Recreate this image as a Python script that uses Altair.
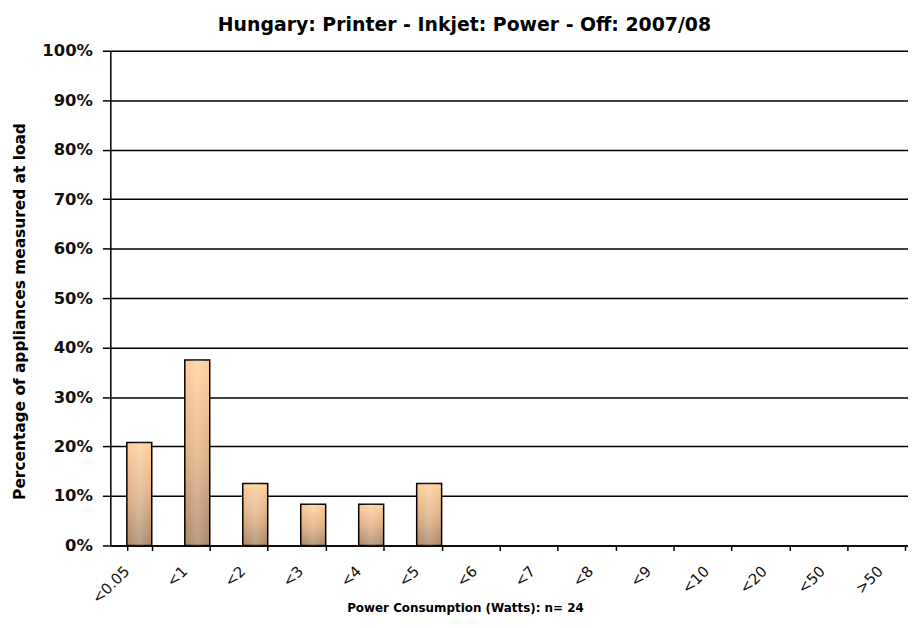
import altair as alt
import pandas as pd

categories = ["<0.05", "<1", "<2", "<3", "<4", "<5", "<6", "<7", "<8", "<9",
              "<10", "<20", "<50", ">50"]
shares = [0.2083, 0.375, 0.125, 0.0833, 0.0833, 0.125, 0, 0, 0, 0, 0, 0, 0, 0]
y_ticks = [0, 0.1, 0.2, 0.3, 0.4, 0.5, 0.6, 0.7, 0.8, 0.9, 1.0]

df = pd.DataFrame({"cat": categories, "share": shares})

x_enc = alt.X(
    "cat:N",
    sort=categories,
    scale=alt.Scale(domain=categories, range=[0, 817], paddingInner=0.57, paddingOuter=0.285),
    axis=alt.Axis(
        title="Power Consumption (Watts):  n= 24",
        titleFont="DejaVu Sans", titleFontSize=12, titleFontWeight="bold",
        titleColor="#000000", titleX=357, titleY=62,
        titleAlign="center", titleBaseline="middle",
        labelAngle=315, labelAlign="right", labelBaseline="middle",
        labelFont="DejaVu Sans", labelFontSize=15, labelColor="#111111",
        labelOffset=-13, labelPadding=18,
        tickBand="extent", tickSize=5, tickColor="#000000", tickWidth=1.5,
        domainColor="#000000", domainWidth=1.5, grid=False,
    ),
)

y_enc = alt.Y(
    "share:Q",
    scale=alt.Scale(domain=[0, 1], nice=False),
    axis=alt.Axis(
        values=y_ticks, format=".0%",
        title="Percentage of appliances measured at load",
        titleFont="DejaVu Sans", titleFontSize=15.5, titleFontWeight="bold",
        titleColor="#000000", titleAngle=270, titleX=-91, titleY=262,
        titleAlign="center", titleBaseline="middle",
        labelFont="DejaVu Sans", labelFontSize=16.5, labelFontWeight="bold",
        labelColor="#111111", labelPadding=10,
        tickSize=8, tickColor="#000000", tickWidth=1.5,
        domainColor="#000000", domainWidth=1.5,
        grid=True, gridColor="#000000", gridWidth=1.5,
    ),
)

base_grad = alt.LinearGradient(
    gradient="linear",
    stops=[alt.GradientStop(color="#FFCD9A", offset=0),
           alt.GradientStop(color="#E0B083", offset=0.5),
           alt.GradientStop(color="#A98565", offset=1)],
    x1=0, x2=0, y1=0, y2=1,
)
shine_grad = alt.LinearGradient(
    gradient="linear",
    stops=[alt.GradientStop(color="rgba(255,255,255,0)", offset=0),
           alt.GradientStop(color="rgba(255,255,255,0.22)", offset=0.5),
           alt.GradientStop(color="rgba(255,255,255,0)", offset=1)],
    x1=0, x2=1, y1=0, y2=0,
)

bars = alt.Chart(df).transform_filter("datum.share > 0").mark_bar(
    color=base_grad, stroke="#000000", strokeWidth=1.5
).encode(x=x_enc, y=y_enc)
shine = alt.Chart(df).transform_filter("datum.share > 0").mark_bar(
    color=shine_grad
).encode(x=x_enc, y=y_enc)

chart = alt.layer(bars, shine).properties(
    width=803,
    height=498,
    autosize=alt.AutoSizeParams(type="none"),
    padding={"left": 103, "top": 41, "right": 0, "bottom": 70},
    title=alt.TitleParams(
        text="Hungary: Printer - Inkjet: Power - Off: 2007/08",
        font="DejaVu Sans", fontSize=19, fontWeight="bold", color="#000000",
        anchor="middle", frame="group", dx=-45, dy=20, offset=13, baseline="alphabetic",
    ),
).configure_view(strokeWidth=0).configure(background="#ffffff")

chart.save("out.html", embed_options={"renderer": "svg", "actions": False})
